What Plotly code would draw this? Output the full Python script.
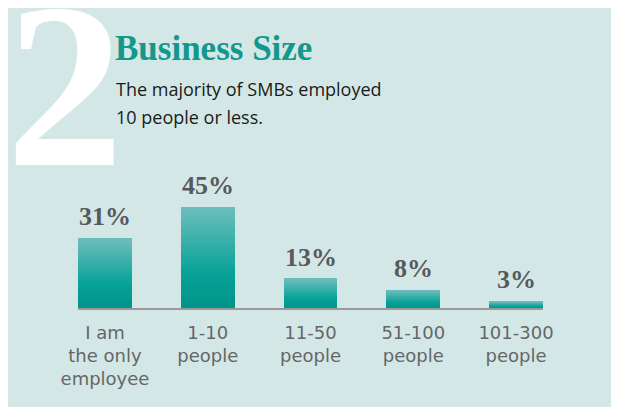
import plotly.graph_objects as go

# ---- data ----
categories = ["I am<br>the only<br>employee", "1-10<br>people", "11-50<br>people",
              "51-100<br>people", "101-300<br>people"]
values = [31, 45, 13, 8, 3]
value_labels = ["31%", "45%", "13%", "8%", "3%"]
title_text = "Business Size"
subtitle_lines = ["The majority of SMBs employed", "10 people or less."]
big_number = "2"

# ---- layout geometry (target page pixels; the page body adds an 8px margin) ----
O = 8
W, H = 619 - O, 407 - O
L, R, T, B = 78 - O, W - (543 - O), 173 - O, H - (308 - O)
PW, PH = W - L - R, H - T - B


def px(x):
    return (x - O - L) / PW


def py(y):
    return (H - B - (y - O)) / PH


def lerp(c1, c2, t):
    return "#%02x%02x%02x" % tuple(int(round(a + (b - a) * t)) for a, b in zip(c1, c2))


stops = [(0.0, (0, 148, 138)), (0.35, (8, 162, 152)), (1.0, (110, 190, 188))]


def grad(t):
    for (t0, c0), (t1, c1) in zip(stops[:-1], stops[1:]):
        if t <= t1:
            return lerp(c0, c1, (t - t0) / (t1 - t0))
    return lerp(stops[-1][1], stops[-1][1], 0)


N = 30
fig = go.Figure()
for i in range(N):
    fig.add_trace(go.Bar(
        x=categories, y=[v / N for v in values],
        marker=dict(color=grad((i + 0.5) / N), line=dict(width=0)),
        hoverinfo="skip", showlegend=False,
    ))

for c, v, lab in zip(categories, values, value_labels):
    fig.add_annotation(x=c, y=v, text="<b>" + lab + "</b>", showarrow=False, yanchor="bottom", yshift=5,
                       font=dict(family="Liberation Serif", size=26, color="#58595b"),
                       xref="x", yref="y")

# big number
fig.add_annotation(xref="paper", yref="paper", x=px(4), y=py(218), xanchor="left", yanchor="bottom",
                   text="<b>" + big_number + "</b>", showarrow=False,
                   font=dict(family="Liberation Serif", size=235, color="white"))
# title
fig.add_annotation(xref="paper", yref="paper", x=px(113), y=py(70), xanchor="left", yanchor="bottom",
                   text="<b>" + title_text + "</b>", showarrow=False,
                   font=dict(family="Liberation Serif", size=35, color="#14978c"))
# subtitle (one annotation per line for exact spacing)
for k, line in enumerate(subtitle_lines):
    fig.add_annotation(xref="paper", yref="paper", x=px(114), y=py(103 + 28 * k), xanchor="left",
                       yanchor="bottom", text=line, showarrow=False, align="left",
                       font=dict(family="Open Sans", size=18, color="#1a1a1a"))

fig.update_layout(
    width=W, height=H,
    margin=dict(l=L, r=R, t=T, b=B, pad=0),
    paper_bgcolor="#d3e8e6", plot_bgcolor="rgba(0,0,0,0)",
    barmode="stack", bargap=0.475,
    xaxis=dict(range=[-0.2625, 4.2625], showline=True, linecolor="#9a9a9a", linewidth=2,
               showgrid=False, zeroline=False, ticks="", ticklabelstandoff=7,
               tickfont=dict(family="DejaVu Sans", size=18, color="#666666")),
    yaxis=dict(range=[0, 60], visible=False, showgrid=False, zeroline=False),
)

fig.write_html("out.html")
